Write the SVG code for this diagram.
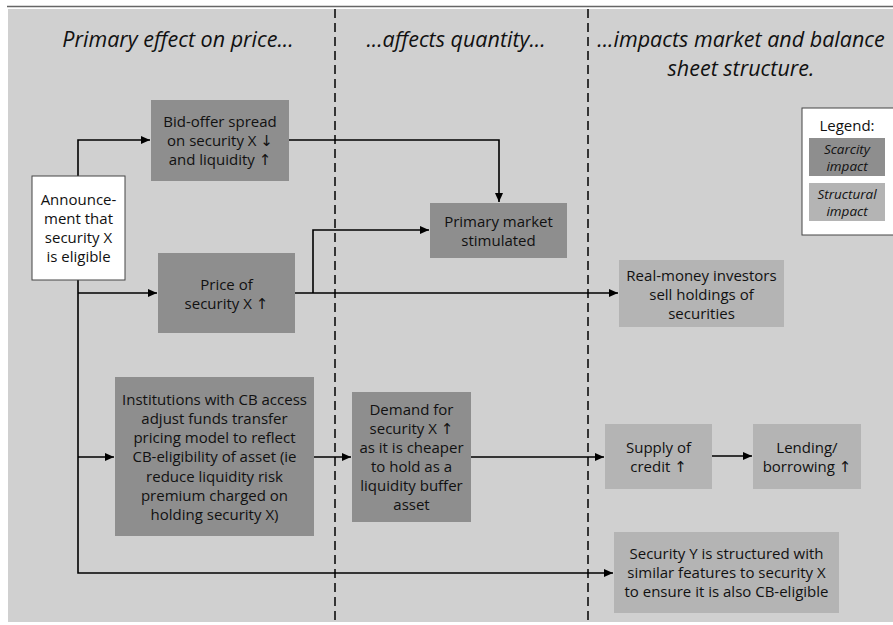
<svg xmlns="http://www.w3.org/2000/svg" width="893" height="625" viewBox="0 0 893 625">
<defs>
<marker id="ah" markerWidth="9" markerHeight="8" refX="9" refY="4" orient="auto" markerUnits="userSpaceOnUse">
<path d="M0,0 L9,4 L0,8 Z" fill="#000"/>
</marker>
<style>
.t{font-family:"Open Sans","Noto Sans","DejaVu Sans",sans-serif;font-size:15px;fill:#111;text-anchor:middle;dominant-baseline:central}
.h{font-family:"Open Sans","Noto Sans","DejaVu Sans",sans-serif;font-size:21.5px;font-style:italic;fill:#111;text-anchor:middle}
.li{font-style:italic;font-size:13.5px}
.dark{fill:#8e8e8e}
.light{fill:#b4b4b4}
.white{fill:#fff;stroke:#444;stroke-width:1}
.c{fill:none;stroke:#000;stroke-width:1.6}
.dash{stroke:#000;stroke-width:1.5;stroke-dasharray:9,5}
</style>
</defs>
<rect width="893" height="625" fill="#fff"/>
<line x1="7" y1="6.5" x2="893" y2="6.5" stroke="#666" stroke-width="1.5"/>
<rect x="8" y="9" width="885" height="613" fill="#d0d0d0"/>
<line class="dash" x1="335" y1="9" x2="335" y2="622"/>
<line class="dash" x1="588" y1="9" x2="588" y2="622"/>
<g id="titles">
<text class="h" x="178" y="47">Primary effect on price...</text>
<text class="h" x="456" y="47">...affects quantity...</text>
<text class="h" x="741" y="47">...impacts market and balance</text>
<text class="h" x="741" y="76">sheet structure.</text>
</g>
<g id="connectors">
<path class="c" d="M78,176 V140 H150" marker-end="url(#ah)"/>
<path class="c" d="M78,280 V573 H613" marker-end="url(#ah)"/>
<path class="c" d="M78,293 H157" marker-end="url(#ah)"/>
<path class="c" d="M78,457 H114" marker-end="url(#ah)"/>
<path class="c" d="M289,140 H499 V202" marker-end="url(#ah)"/>
<path class="c" d="M295,293 H618" marker-end="url(#ah)"/>
<path class="c" d="M313,293 V230 H429" marker-end="url(#ah)"/>
<path class="c" d="M314,457 H351" marker-end="url(#ah)"/>
<path class="c" d="M471,457 H604" marker-end="url(#ah)"/>
<path class="c" d="M712,456 H752" marker-end="url(#ah)"/>
</g>
<g id="announcement">
<rect class="white" x="32" y="176" width="93" height="104"/>
<text class="t" x="78.5" y="199">Announce-</text>
<text class="t" x="78.5" y="218">ment that</text>
<text class="t" x="78.5" y="237">security X</text>
<text class="t" x="78.5" y="256">is eligible</text>
</g>
<g id="bidoffer">
<rect class="dark" x="151" y="100" width="138" height="81"/>
<text class="t" x="220" y="121">Bid-offer spread</text>
<text class="t" x="220" y="140">on security X ↓</text>
<text class="t" x="220" y="159">and liquidity ↑</text>
</g>
<g id="price">
<rect class="dark" x="158" y="253" width="137" height="80"/>
<text class="t" x="226.5" y="284">Price of</text>
<text class="t" x="226.5" y="303">security X ↑</text>
</g>
<g id="primarymarket">
<rect class="dark" x="430" y="203" width="137" height="55"/>
<text class="t" x="498.5" y="221">Primary market</text>
<text class="t" x="498.5" y="240">stimulated</text>
</g>
<g id="realmoney">
<rect class="light" x="619" y="260" width="165" height="67"/>
<text class="t" x="701.5" y="275">Real-money investors</text>
<text class="t" x="701.5" y="294">sell holdings of</text>
<text class="t" x="701.5" y="313">securities</text>
</g>
<g id="legend">
<rect class="white" x="802" y="108" width="92" height="127"/>
<text class="t" x="847" y="125">Legend:</text>
<rect class="dark" x="809" y="138" width="76" height="38"/>
<text class="t li" x="847" y="149">Scarcity</text>
<text class="t li" x="847" y="166">impact</text>
<rect class="light" x="809" y="183" width="76" height="38"/>
<text class="t li" x="847" y="194">Structural</text>
<text class="t li" x="847" y="211">impact</text>
</g>
<g id="institutions">
<rect class="dark" x="115" y="377" width="199" height="159"/>
<text class="t" x="214.5" y="399">Institutions with CB access</text>
<text class="t" x="214.5" y="418">adjust funds transfer</text>
<text class="t" x="214.5" y="437">pricing model to reflect</text>
<text class="t" x="214.5" y="456">CB-eligibility of asset (ie</text>
<text class="t" x="214.5" y="476">reduce liquidity risk</text>
<text class="t" x="214.5" y="495">premium charged on</text>
<text class="t" x="214.5" y="514">holding security X)</text>
</g>
<g id="demand">
<rect class="dark" x="352" y="392" width="119" height="130"/>
<text class="t" x="411.5" y="409">Demand for</text>
<text class="t" x="411.5" y="428">security X ↑</text>
<text class="t" x="411.5" y="447">as it is cheaper</text>
<text class="t" x="411.5" y="466">to hold as a</text>
<text class="t" x="411.5" y="485">liquidity buffer</text>
<text class="t" x="411.5" y="504">asset</text>
</g>
<g id="supply">
<rect class="light" x="605" y="424" width="107" height="65"/>
<text class="t" x="658.5" y="447">Supply of</text>
<text class="t" x="658.5" y="466">credit ↑</text>
</g>
<g id="lending">
<rect class="light" x="753" y="424" width="108" height="65"/>
<text class="t" x="807" y="447">Lending/</text>
<text class="t" x="807" y="466">borrowing ↑</text>
</g>
<g id="securityY">
<rect class="light" x="614" y="532" width="225" height="81"/>
<text class="t" x="726.5" y="553">Security Y is structured with</text>
<text class="t" x="726.5" y="572">similar features to security X</text>
<text class="t" x="726.5" y="591">to ensure it is also CB-eligible</text>
</g>
</svg>
